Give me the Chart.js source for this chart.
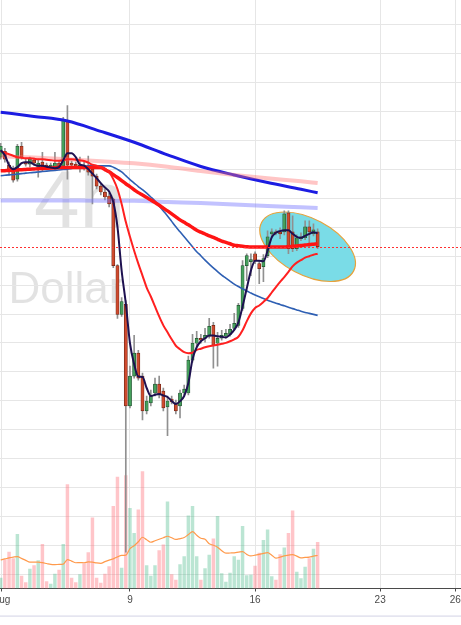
<!DOCTYPE html>
<html>
<head>
<meta charset="utf-8">
<script src="https://cdn.jsdelivr.net/npm/chart.js@4.4.1/dist/chart.umd.min.js"></script>
<style>
  html, body { margin: 0; padding: 0; background: #fff; }
  #contenedor { width: 461px; height: 625px; position: relative; }
</style>
</head>
<body>
<div id="contenedor"><canvas id="grafico" width="461" height="625"></canvas></div>
<script>
// ==========================================
// 1. DATOS (velas 4h, indice de barra)
// ==========================================
const indices = Array.from({ length: 77 }, (_, i) => i);

const aperturas = [8.42,8.48,8.34,8.30,8.20,8.53,8.37,8.35,8.39,8.32, 8.37,8.34,8.32,8.32,8.36,8.33,8.79,8.36,8.35,8.31,
  8.34,8.32,8.30,8.23,8.13,8.07,8.03,8.00,7.33,6.84, 6.94,5.92,6.22,6.45,6.22,5.87,5.95,6.05,6.14,6.07,
  5.91,5.99,5.94,5.92,6.05,6.05,6.38,6.55,6.60,6.60, 6.62,6.73,6.55,6.60,6.62,6.64,6.70,6.73,6.90,7.33,
  7.37,7.45,7.35,7.32,7.43,7.65,7.67,7.67,7.67,7.86, 7.67,7.50,7.60,7.61,7.72,7.65,7.67];
const maximos = [8.56,8.51,8.37,8.33,8.55,8.57,8.40,8.42,8.41,8.40, 8.47,8.36,8.36,8.47,8.38,8.82,8.94,8.38,8.37,8.42,
  8.37,8.43,8.33,8.25,8.15,8.10,8.06,8.01,7.34,7.01, 6.98,6.32,6.63,6.48,6.25,6.02,6.08,6.20,6.22,6.10,
  6.02,6.02,5.98,6.08,6.13,6.42,6.64,6.67,6.64,6.70, 6.80,6.76,6.66,6.68,6.69,6.74,6.85,6.95,7.38,7.45,
  7.45,7.47,7.38,7.44,7.68,7.70,7.69,7.71,7.88,7.88, 7.83,7.64,7.66,7.78,7.78,7.75,7.70];
const minimos = [8.40,8.37,8.24,8.17,8.18,8.40,8.33,8.32,8.34,8.22, 8.28,8.30,8.30,8.30,8.30,8.31,8.20,8.32,8.31,8.27,
  8.29,8.24,7.95,8.10,8.04,7.99,7.92,7.31,6.80,6.82, 4.45,5.90,6.20,6.18,5.78,5.84,5.92,6.02,6.00,5.87,
  5.62,5.94,5.84,5.80,6.03,6.03,6.36,6.52,6.55,6.56, 6.60,6.30,6.32,6.58,6.60,6.62,6.68,6.71,6.88,7.18,
  7.23,7.35,7.15,7.17,7.41,7.62,7.64,7.60,7.64,7.45, 7.47,7.48,7.58,7.59,7.52,7.63,7.50];
const cierres = [8.53,8.40,8.29,8.19,8.53,8.42,8.35,8.40,8.36,8.36, 8.32,8.32,8.34,8.36,8.33,8.79,8.34,8.34,8.33,8.34,
  8.32,8.27,8.23,8.13,8.07,8.02,7.95,7.33,6.84,6.97, 5.92,6.22,6.45,6.20,5.87,5.97,6.02,6.14,6.03,5.90,
  5.97,5.96,5.87,6.05,6.09,6.38,6.55,6.60,6.58,6.63, 6.72,6.53,6.60,6.63,6.65,6.69,6.75,6.93,7.33,7.43,
  7.39,7.38,7.30,7.40,7.62,7.67,7.66,7.65,7.85,7.50, 7.50,7.61,7.62,7.72,7.67,7.69,7.52];
const volumen = [10.5,29,36.5,30,54.5,12.5,6,19.5,23,28, 44.5,7,4.5,14.5,18.5,44.5,104.5,10.5,6,14,
  25,36,71,10.5,5.5,14.5,22,82.5,112,20.5, 113.5,80.5,55.5,79,117.5,23,12.5,23,38,44,
  87,14,8.5,24,32,73,82.5,32,8.5,20, 33.5,50,72.5,15,6.5,15.5,32,28.5,62.5,13,
  13.5,22.5,35.5,48.5,59,12,8.5,34,41,55.5, 78,16.5,10,21.5,30,39.5,46.5];
const mediaVolumen = [28.8,29.7,30.7,31.5,32.1,30.3,28.3,26.5,26.5,26.5, 26,25.1,24.2,24,24.2,24.5,29,27.5,25.9,26,
  25.9,26.7,26.5,25.7,25.3,27,28.5,29.8,31.8,33.2, 33.5,40,43,47,51.5,49,46.5,48,49.5,51,
  52.5,51,49.3,50.2,51.2,54.2,57.2,53.5,50.5,49.5, 45,43.5,41.5,38,35.5,35.7,35.9,36.5,37.1,34.3,
  32.7,33.5,34.3,35.3,36.1,33.5,30.5,31.5,32.8,33.5, 34.1,32.5,30.8,31.2,31.5,32.5,33.2];

// medias moviles rapidas (una por vela)
const mediaAzulOscuro = [8.49,8.44,8.34,8.30,8.32,8.36,8.37,8.37,8.345,8.333, 8.333,8.325,8.317,8.31,8.32,8.39,8.46,8.46,8.42,8.345,
  8.335,8.30,8.255,8.21,8.16,8.115,8.075,7.97,7.72,7.28, 6.95,6.55,6.34,6.215,6.21,6.10,6.02,6.032,6.04,6.025,
  6.01,5.97,5.94,5.967,6.02,6.15,6.39,6.51,6.57,6.60, 6.627,6.627,6.62,6.615,6.607,6.638,6.685,6.76,6.92,7.10,
  7.28,7.38,7.38,7.375,7.48,7.615,7.66,7.677,7.685,7.685, 7.65,7.62,7.61,7.63,7.65,7.665,7.655];
const mediaRojaFina = [8.48,8.465,8.45,8.435,8.42,8.415,8.41,8.41,8.405,8.40, 8.40,8.395,8.39,8.385,8.385,8.39,8.40,8.40,8.395,8.388,
  8.382,8.365,8.345,8.334,8.32,8.305,8.27,8.20,8.10,7.95, 7.77,7.62,7.48,7.35,7.23,7.11,7.02,6.92,6.82,6.73,
  6.66,6.59,6.525,6.49,6.46,6.45,6.455,6.483,6.495,6.51, 6.52,6.527,6.534,6.545,6.554,6.57,6.59,6.615,6.68,6.77,
  6.85,6.905,6.93,6.965,7.005,7.06,7.115,7.167,7.215,7.267, 7.323,7.36,7.385,7.41,7.425,7.44,7.45];
const mediaRojaGruesa = [8.283,8.285,8.287,8.29,8.292,8.294,8.297,8.30,8.302,8.304, 8.307,8.309,8.311,8.314,8.316,8.317,8.317,8.317,8.317,8.317,
  8.317,8.317,8.317,8.317,8.316,8.295,8.273,8.245,8.216,8.185, 8.153,8.124,8.093,8.064,8.04,8.014,7.99,7.965,7.937,7.908,
  7.88,7.85,7.82,7.79,7.765,7.74,7.713,7.686,7.666,7.648, 7.63,7.613,7.595,7.577,7.564,7.55,7.535,7.53,7.525,7.52,
  7.517,7.517,7.517,7.517,7.517,7.517,7.517,7.517,7.517,7.52, 7.524,7.528,7.532,7.537,7.542,7.546,7.55];
const mediaAcero = [8.234,8.238,8.242,8.245,8.25,8.255,8.26,8.264,8.267,8.272, 8.276,8.28,8.284,8.288,8.292,8.296,8.30,8.308,8.315,8.322,
  8.33,8.333,8.333,8.333,8.333,8.333,8.333,8.32,8.298,8.272, 8.234,8.195,8.16,8.125,8.093,8.058,8.02,7.98,7.93,7.88,
  7.83,7.775,7.72,7.67,7.62,7.57,7.52,7.47,7.43,7.385, 7.345,7.308,7.27,7.235,7.205,7.175,7.145,7.12,7.097,7.075,
  7.055,7.035,7.017,7.00,6.983,6.968,6.953,6.94,6.926,6.912, 6.898,6.885,6.872,6.86,6.85,6.84,6.83];

// medias lentas, leidas cada 8 velas
const indicesLentos = [0, 8, 16, 24, 32, 40, 48, 56, 64, 72, 76];
const mediaAzul = [8.872,8.83,8.784,8.68,8.57,8.444,8.327,8.241,8.165,8.098,8.062];
const mediaRosa = [8.43,8.416,8.40,8.38,8.358,8.324,8.28,8.242,8.208,8.178,8.16];
const mediaLavanda = [7.985,7.985,7.984,7.983,7.982,7.97,7.96,7.945,7.93,7.917,7.91];

// eje de tiempo
const ticksIndice = [0.2, 31, 61, 91, 109];
const ticksTexto = ['Aug', '9', '16', '23', '26'];

// elipse dibujada sobre el grafico
const elipse = { indice: 73.6, precio: 7.52 };

// marca de agua
const marcaLinea1 = '4h';
const marcaLinea2 = 'Dollar';

// ==========================================
// 2. CONFIGURACION
// ==========================================
const VERDE = '#45a05c', ROJO = '#cf4a2e';
const FUENTE = '"Liberation Sans", Arial, sans-serif';
const gridBase = 4.227, gridPaso = 0.2907;

const sube = indices.map(i => cierres[i] >= aperturas[i]);
const puntos = (xs, ys) => xs.map((x, k) => ({ x: x, y: ys[k] }));

function linea(datos, color, ancho, orden, eje) {
  return {
    type: 'line', data: datos, borderColor: color, borderWidth: ancho,
    pointRadius: 0, cubicInterpolationMode: 'monotone', order: orden,
    yAxisID: eje || 'y', fill: false
  };
}

// ==========================================
// 3. PLUGINS (marca de agua, elipse, linea de precio)
// ==========================================
const fondo = {
  id: 'fondo',
  beforeDraw(chart) {
    const ctx = chart.ctx;
    ctx.save();
    ctx.fillStyle = '#fff';
    ctx.fillRect(0, 0, chart.width, chart.height);
    ctx.fillStyle = 'rgba(0,0,0,0.115)';
    ctx.textBaseline = 'alphabetic';
    ctx.font = '82px ' + FUENTE;
    ctx.fillText(marcaLinea1, 34, 228);
    ctx.font = '44px ' + FUENTE;
    ctx.fillText(marcaLinea2, 8.5, 303);
    ctx.restore();
  },
  beforeDatasetsDraw(chart) {
    const ctx = chart.ctx, a = chart.chartArea;
    const cx = chart.scales.x.getPixelForValue(elipse.indice);
    const cy = chart.scales.y.getPixelForValue(elipse.precio);
    ctx.save();
    ctx.beginPath();
    ctx.rect(a.left, a.top, a.right - a.left, a.bottom - a.top);
    ctx.clip();
    ctx.beginPath();
    ctx.ellipse(cx, cy, 52, 28, 28 * Math.PI / 180, 0, Math.PI * 2);
    ctx.fillStyle = '#7adce7';
    ctx.fill();
    ctx.strokeStyle = '#e6a23c';
    ctx.lineWidth = 1.2;
    ctx.stroke();
    ctx.restore();
  },
  afterDatasetsDraw(chart) {
    const ctx = chart.ctx, a = chart.chartArea;
    const y = Math.round(chart.scales.y.getPixelForValue(cierres[cierres.length - 1])) + 0.5;
    ctx.save();
    ctx.strokeStyle = '#ff3030';
    ctx.lineWidth = 1;
    ctx.setLineDash([2, 2]);
    ctx.beginPath();
    ctx.moveTo(a.left, y);
    ctx.lineTo(a.right, y);
    ctx.stroke();
    ctx.restore();
  },
  afterDraw(chart) {
    const ctx = chart.ctx;
    ctx.save();
    ctx.fillStyle = '#dadaea';
    ctx.fillRect(0, 615.5, chart.width, 1.2);
    ctx.restore();
  }
};

// ==========================================
// 4. GRAFICO
// ==========================================
new Chart(document.getElementById('grafico'), {
  type: 'bar',
  data: {
    datasets: [
      linea(puntos(indices, mediaAzulOscuro), '#1e1150', 2, 1),
      linea(puntos(indices, mediaRojaFina), '#ff2020', 2, 2),
      linea(puntos(indices, mediaRojaGruesa), '#ff1414', 3.5, 3),
      linea(puntos(indices, mediaAcero), '#2e5fb3', 1.6, 4),
      linea(puntos(indicesLentos, mediaLavanda), 'rgba(120,120,255,0.45)', 4, 5),
      linea(puntos(indicesLentos, mediaRosa), 'rgba(255,110,110,0.4)', 4, 6),
      linea(puntos(indicesLentos, mediaAzul), '#1c1ce2', 3, 7),
      {
        type: 'bar', order: 10, grouped: false, yAxisID: 'y',
        data: indices.map(i => ({ x: i, y: [aperturas[i], cierres[i]] })),
        backgroundColor: sube.map(s => s ? VERDE : ROJO),
        borderColor: sube.map(s => s ? '#20502f' : '#6a2414'),
        borderWidth: 0.7, borderSkipped: false,
        barThickness: 3.2, minBarLength: 1
      },
      {
        type: 'bar', order: 11, grouped: false, yAxisID: 'y',
        data: indices.map(i => ({ x: i, y: [minimos[i], maximos[i]] })),
        backgroundColor: '#909090', barThickness: 1, borderWidth: 0
      },
      linea(puntos(indices, mediaVolumen), '#ff9a4c', 1.2, 19, 'y2'),
      {
        type: 'bar', order: 20, grouped: false, yAxisID: 'y2',
        data: indices.map(i => ({ x: i, y: volumen[i] })),
        backgroundColor: sube.map(s => s ? 'rgba(60,180,130,0.35)' : 'rgba(255,110,120,0.4)'),
        barThickness: 2.8, borderWidth: 0
      }
    ]
  },
  options: {
    responsive: false,
    animation: false,
    layout: { autoPadding: false, padding: { left: 0, right: 0, top: 0, bottom: 15.5 } },
    plugins: { legend: { display: false }, tooltip: { enabled: false } },
    scales: {
      x: {
        type: 'linear', min: -0.168, max: 110.38, offset: false,
        afterBuildTicks: s => { s.ticks = ticksIndice.map(v => ({ value: v })); },
        afterFit: s => { s.paddingLeft = 0; s.paddingRight = 0; },
        ticks: {
          callback: (v, i) => ticksTexto[i], autoSkip: false, maxRotation: 0,
          color: '#4a4a4a', padding: 3, font: { size: 10, family: FUENTE }
        },
        grid: { color: '#e6e6e6', lineWidth: 1, tickLength: 3, tickColor: '#4a4a4a', offset: false },
        border: { display: true, color: '#4a4a4a', width: 1 }
      },
      y: {
        position: 'left', min: 4.085, max: 10.0, beginAtZero: false,
        afterBuildTicks: s => {
          const t = [];
          for (let v = gridBase; v <= s.max; v += gridPaso) t.push({ value: v });
          s.ticks = t;
        },
        afterFit: s => { s.width = 0; },
        ticks: { display: false },
        grid: { color: '#e6e6e6', drawTicks: false },
        border: { display: false }
      },
      y2: { display: false, min: 0, max: 591.5 }
    }
  },
  plugins: [fondo]
});
</script>
</body>
</html>
